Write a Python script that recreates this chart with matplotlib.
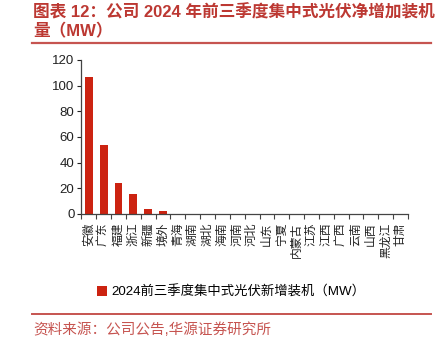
import matplotlib
matplotlib.use('Agg')
import matplotlib.pyplot as plt
from matplotlib.lines import Line2D
import numpy as np

plt.rcParams['font.family'] = ['Liberation Sans', 'Noto Sans CJK SC']

provinces = ['安徽', '广东', '福建', '浙江', '新疆', '境外', '青海', '湖南', '湖北', '海南', '河南',
             '河北', '山东', '宁夏', '内蒙古', '江苏', '江西', '广西', '云南', '山西', '黑龙江', '甘肃']
capacity = [107, 54, 24, 15.5, 3.8, 2.1, 0, 0, 0, 0, 0,
            0, 0, 0, 0, 0, 0, 0, 0, 0, 0, 0]
yticks = [0, 20, 40, 60, 80, 100, 120]

title_text = '图表 12：公司 2024 年前三季度集中式光伏净增加装机\n量（MW）'
legend_text = '2024前三季度集中式光伏新增装机（MW）'
source_text = '资料来源：公司公告,华源证券研究所'

bar_color = '#CC2311'
title_color = '#BC3832'
rule_color = '#C65450'

fig = plt.figure(figsize=(4.44, 3.38), dpi=100)
ax = fig.add_axes([0.1833, 0.3669, 0.7356, 0.4556])

x = np.arange(len(provinces))
bars = ax.bar(x, capacity, width=0.52, color=bar_color, label=legend_text)

ax.set_xlim(-0.5, len(provinces) - 0.5)
ax.set_ylim(0, 120)
ax.set_yticks(yticks)
ax.tick_params(axis='y', direction='out', length=3, width=0.8, labelsize=9.5,
               colors='#222222', pad=2)

# category labels sit between boundary ticks
ax.set_xticks(x)
ax.set_xticklabels(provinces, rotation=90, fontsize=8.5, color='#222222')
ax.set_xticks(np.arange(-0.5, len(provinces)), minor=True)
ax.tick_params(axis='x', which='major', length=0, pad=6)
ax.tick_params(axis='x', which='minor', direction='out', length=3.5, width=0.8, color='#444444')

for side in ['top', 'right']:
    ax.spines[side].set_visible(False)
for side in ['left', 'bottom']:
    ax.spines[side].set_color('#444444')
    ax.spines[side].set_linewidth(0.9)

fig.text(33 / 444, 1 - 4 / 338, title_text, ha='left', va='top', fontsize=12,
         fontweight='bold', color=title_color, linespacing=1.25)
fig.add_artist(Line2D([32 / 444, 431 / 444], [1 - 43 / 338] * 2, color=rule_color, lw=1.6))

fig.legend(handles=[bars], labels=[legend_text], loc='center',
           bbox_to_anchor=(231 / 444, 1 - 292 / 338), frameon=False,
           fontsize=9.6, handlelength=0.75, handleheight=0.75, handletextpad=0.35)

fig.add_artist(Line2D([32 / 444, 431 / 444], [1 - 313.5 / 338] * 2, color=rule_color, lw=1.4))
fig.text(33 / 444, 1 - 330 / 338, source_text, ha='left', va='center', fontsize=10.5,
         color=rule_color)

fig.savefig('out.png', dpi=100)
